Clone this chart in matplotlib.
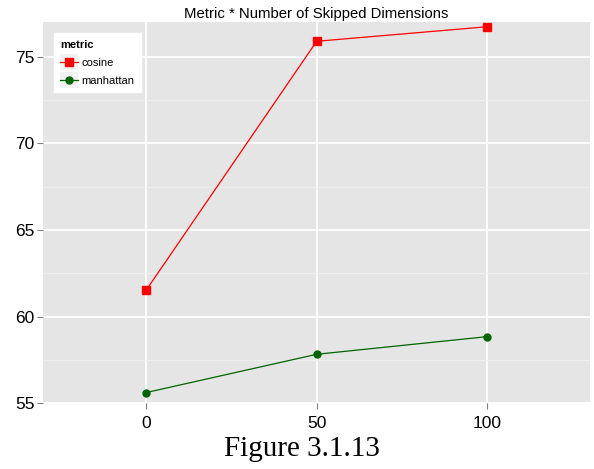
import numpy as np
import matplotlib
matplotlib.use("Agg")
import matplotlib.pyplot as plt
import matplotlib.patches as patches
from matplotlib.ticker import MultipleLocator
from matplotlib.legend_handler import HandlerLine2D

# values
skipped = [0, 50, 100]
cosine = [61.52, 75.89, 76.73]
manhattan = [55.62, 57.83, 58.85]

x_ticks = [0, 50, 100]
y_ticks = [55, 60, 65, 70, 75]

plt.rcParams['font.family'] = ['Liberation Sans', 'DejaVu Sans']


# ggplot style legend key: grey box behind the line + marker
class KeyHandler(HandlerLine2D):
    def create_artists(self, legend, orig_handle, xdescent, ydescent,
                       width, height, fontsize, trans):
        bg = patches.Rectangle((-xdescent, -ydescent - 3), width, height + 6,
                               facecolor="#F2F2F2", edgecolor="none", transform=trans)
        arts = super().create_artists(legend, orig_handle, xdescent, ydescent,
                                      width, height, fontsize, trans)
        return [bg] + list(arts)


fig = plt.figure(figsize=(5.94, 4.69), dpi=100)
ax = fig.add_axes([0.0724, 0.140, 0.9209, 0.813])

ax.set_facecolor("#E5E5E5")
ax.set_axisbelow(True)
ax.yaxis.set_minor_locator(MultipleLocator(2.5))
ax.grid(which="major", color="white", linewidth=1.3)
ax.grid(which="minor", axis="y", color="#F0F0F0", linewidth=0.6)
for s in ax.spines.values():
    s.set_visible(False)

ax.plot(skipped, cosine, color="red", linewidth=0.9, marker="s",
        markersize=5.2, label="cosine")
ax.plot(skipped, manhattan, color="#006400", linewidth=0.9, marker="o",
        markersize=5, label="manhattan")

ax.set_xlim(-30.2, 130.1)
ax.set_ylim(55, 77.0)
ax.set_xticks(x_ticks)
ax.set_yticks(y_ticks)
ax.tick_params(axis="both", which="major", labelsize=12.5, colors="#7F7F7F",
               labelcolor="black", length=4, width=0.8, pad=2)
ax.tick_params(axis="both", which="minor", length=0)
ax.tick_params(axis="x", pad=5)

ax.set_title("Metric * Number of Skipped Dimensions", fontsize=10.7, pad=3)

leg = ax.legend(title="metric", loc="upper left", bbox_to_anchor=(0.02, 0.97),
                fontsize=8, title_fontsize=8, frameon=True, fancybox=False,
                borderpad=0.55, handlelength=1.6, labelspacing=0.75,
                handletextpad=0.35, borderaxespad=0,
                handler_map={plt.Line2D: KeyHandler()})
leg.get_frame().set_edgecolor("white")
leg.get_frame().set_facecolor("white")
leg.get_frame().set_alpha(1)
leg.get_title().set_fontweight("bold")
leg._legend_box.align = "left"

fig.text(0.508, 0.028, "Figure 3.1.13", family=["Liberation Serif", "DejaVu Serif"],
         fontsize=21, ha="center", va="baseline")

fig.savefig("out.png", dpi=100)
